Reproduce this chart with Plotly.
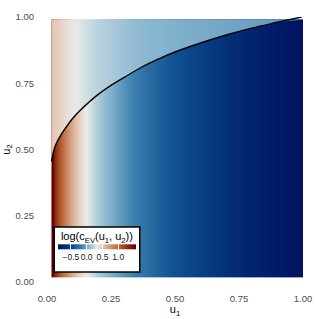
import numpy as np
import plotly.graph_objects as go
from plotly.colors import sample_colorscale

# ---- data ----
u1_cols = [0.02, 0.025, 0.035, 0.05, 0.065, 0.08, 0.10, 0.12, 0.15, 0.2,
           0.25, 0.3, 0.35, 0.4, 0.5, 0.6, 0.7, 0.8, 0.9, 0.994]
logc_below = [1.56, 1.42, 1.27, 1.08, 0.92, 0.78, 0.62, 0.49, 0.33, 0.15,
              0.03, -0.08, -0.18, -0.27, -0.42, -0.54, -0.65, -0.75, -0.84, -0.91]
logc_above = [0.52, 0.50, 0.48, 0.45, 0.42, 0.39, 0.35, 0.31, 0.26, 0.20,
              0.16, 0.12, 0.09, 0.07, 0.04, 0.02, 0.0, -0.02, -0.04, -0.05]
u2_rows = [0.018, 0.5, 0.991]

curve_u1 = [0.0175, 0.025, 0.035, 0.05, 0.07, 0.1, 0.13, 0.16, 0.2, 0.25, 0.3,
            0.35, 0.4, 0.45, 0.5, 0.6, 0.7, 0.8, 0.9, 0.995]
curve_u2 = [0.455, 0.49, 0.52, 0.548, 0.578, 0.617, 0.648, 0.675, 0.708, 0.742,
            0.771, 0.80, 0.826, 0.848, 0.868, 0.902, 0.932, 0.958, 0.98, 1.0]

tick_vals = [0.0, 0.25, 0.5, 0.75, 1.0]
tick_text = ["0.00", "0.25", "0.50", "0.75", "1.00"]
cb_vals = [-0.5, 0.0, 0.5, 1.0]
cb_text = ["\u22120.5", "0.0", "0.5", "1.0"]

vik = [
    [0.00, "rgb(0,18,97)"],
    [0.10, "rgb(3,46,118)"],
    [0.20, "rgb(16,82,145)"],
    [0.30, "rgb(58,125,172)"],
    [0.40, "rgb(140,185,210)"],
    [0.50, "rgb(234,236,233)"],
    [0.60, "rgb(224,184,160)"],
    [0.70, "rgb(201,134,97)"],
    [0.80, "rgb(178,88,44)"],
    [0.90, "rgb(140,40,12)"],
    [1.00, "rgb(89,0,8)"],
]

cmin, cmax = min(logc_below), max(logc_below)

fig = go.Figure()

# below-curve field (varies with u1)
fig.add_trace(go.Heatmap(
    x=u1_cols, y=u2_rows, z=[logc_below, logc_below],
    coloraxis="coloraxis", zsmooth="best", hoverinfo="skip"))

# above-curve field, same colour scale
left = u1_cols[0] - (u1_cols[1] - u1_cols[0]) / 2
top = u2_rows[-1]
cu1 = np.array(curve_u1)
cu2 = np.minimum(np.array(curve_u2), top)
norm_pos = (np.array(u1_cols) - u1_cols[0]) / (u1_cols[-1] - u1_cols[0])
norm_val = (np.array(logc_above) - cmin) / (cmax - cmin)
cols = sample_colorscale(vik, list(norm_val))
grad = [[float(p), c] for p, c in zip(norm_pos, cols)]
poly_x = [left] + list(cu1) + [cu1[-1], left]
poly_y = [cu2[0]] + list(cu2) + [top, top]
fig.add_trace(go.Scatter(
    x=poly_x, y=poly_y, mode="none", fill="toself",
    fillgradient=dict(type="horizontal", colorscale=grad,
                      start=u1_cols[0], stop=u1_cols[-1]),
    hoverinfo="skip", showlegend=False))

# boundary curve
fig.add_trace(go.Scatter(
    x=curve_u1, y=curve_u2, mode="lines",
    line=dict(color="black", width=1.4, shape="spline"),
    hoverinfo="skip", showlegend=False))

fig.update_layout(
    width=319, height=319,
    margin=dict(l=47, r=16, t=17, b=37, autoexpand=False),
    paper_bgcolor="white", plot_bgcolor="white",
    font=dict(family="Liberation Sans, Arial, sans-serif"),
    showlegend=False,
    coloraxis=dict(
        colorscale=vik, cmin=cmin, cmax=cmax,
        colorbar=dict(
            orientation="h", x=0.031, y=0.037, xanchor="left", yanchor="bottom",
            lenmode="pixels", len=84, thickness=5,
            xpad=3, ypad=3,
            bgcolor="white", bordercolor="black", borderwidth=1.5,
            outlinewidth=0,
            title=dict(text="log(c<sub>EV</sub>(u<sub>1</sub>, u<sub>2</sub>))",
                       side="top", font=dict(size=11, color="black")),
            tickvals=cb_vals, ticktext=cb_text, tickangle=0,
            ticks="inside", ticklen=5, tickcolor="white", tickwidth=1,
            tickfont=dict(size=8.5, color="#222222"),
        ),
    ),
    xaxis=dict(range=[0, 1], tickvals=tick_vals, ticktext=tick_text,
               showgrid=False, zeroline=False, showline=False, automargin=False,
               tickfont=dict(size=9.5, color="#4d4d4d"), ticklabelstandoff=9,
               title=dict(text="u<sub>1</sub>", font=dict(size=11, color="black"),
                          standoff=2)),
    yaxis=dict(range=[0, 1], tickvals=tick_vals, ticktext=tick_text,
               showgrid=False, zeroline=False, showline=False, automargin=False,
               tickfont=dict(size=9.5, color="#4d4d4d"), ticklabelstandoff=12,
               title=dict(text="u<sub>2</sub>", font=dict(size=11, color="black"),
                          standoff=4)),
)

fig.write_html("out.html",
               config={"displayModeBar": False},
               post_script="document.body.style.margin='0';document.body.style.overflow='hidden';")
